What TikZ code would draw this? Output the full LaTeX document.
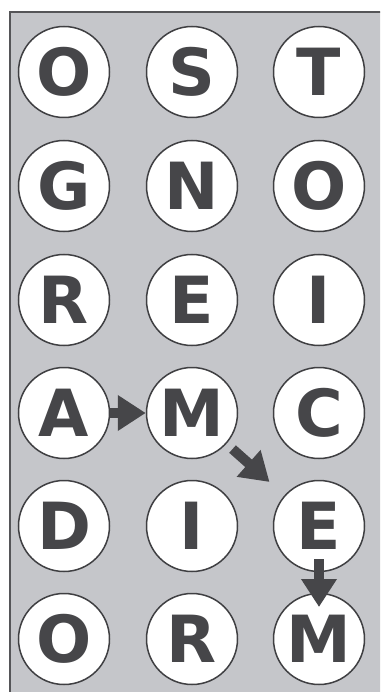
\documentclass[tikz,border=0pt]{standalone}
\usepackage{fontspec}
\setmainfont{DejaVu Sans}
\usetikzlibrary{arrows.meta}
\definecolor{bggrey}{HTML}{C5C6CA}
\definecolor{framegrey}{HTML}{555558}
\definecolor{inkgrey}{HTML}{464649}
\definecolor{ringgrey}{HTML}{3F3F42}
\tikzset{
  letter/.style={circle, minimum size=91pt, inner sep=0pt, fill=white,
    draw=ringgrey, line width=1.5pt, text=inkgrey,
    font=\bfseries\fontsize{65}{65}\selectfont},
  arr/.style={draw=inkgrey, line width=10pt,
    -{Triangle[length=28pt,width=34pt,fill=inkgrey]}}
}
\begin{document}
\begin{tikzpicture}[x=1pt,y=-1pt]
\clip (0,0) rectangle (380,692);
\fill[white] (0,0) rectangle (380,692);
\filldraw[fill=bggrey, draw=framegrey, line width=2pt] (10,12) rectangle (400,712);
\node[letter] (n11) at (64,72) {O};
\node[letter] (n12) at (192,72) {S};
\node[letter] (n13) at (319,72) {T};
\node[letter] (n21) at (64,186) {G};
\node[letter] (n22) at (192,186) {N};
\node[letter] (n23) at (319,186) {O};
\node[letter] (n31) at (64,300) {R};
\node[letter] (n32) at (192,300) {E};
\node[letter] (n33) at (319,300) {I};
\node[letter] (n41) at (64,413) {A};
\node[letter] (n42) at (192,413) {M};
\node[letter] (n43) at (319,413) {C};
\node[letter] (n51) at (64,526) {D};
\node[letter] (n52) at (192,526) {I};
\node[letter] (n53) at (319,526) {E};
\node[letter] (n61) at (64,639) {O};
\node[letter] (n62) at (192,639) {R};
\node[letter] (n63) at (319,639) {M};
\draw[arr] (n41) -- (n42);
\draw[arr, shorten <=8pt, shorten >=20pt] (n42) -- (n53);
\draw[arr] ([yshift=-33pt]n53.center) -- ([yshift=32pt]n63.center);
\end{tikzpicture}
\end{document}
